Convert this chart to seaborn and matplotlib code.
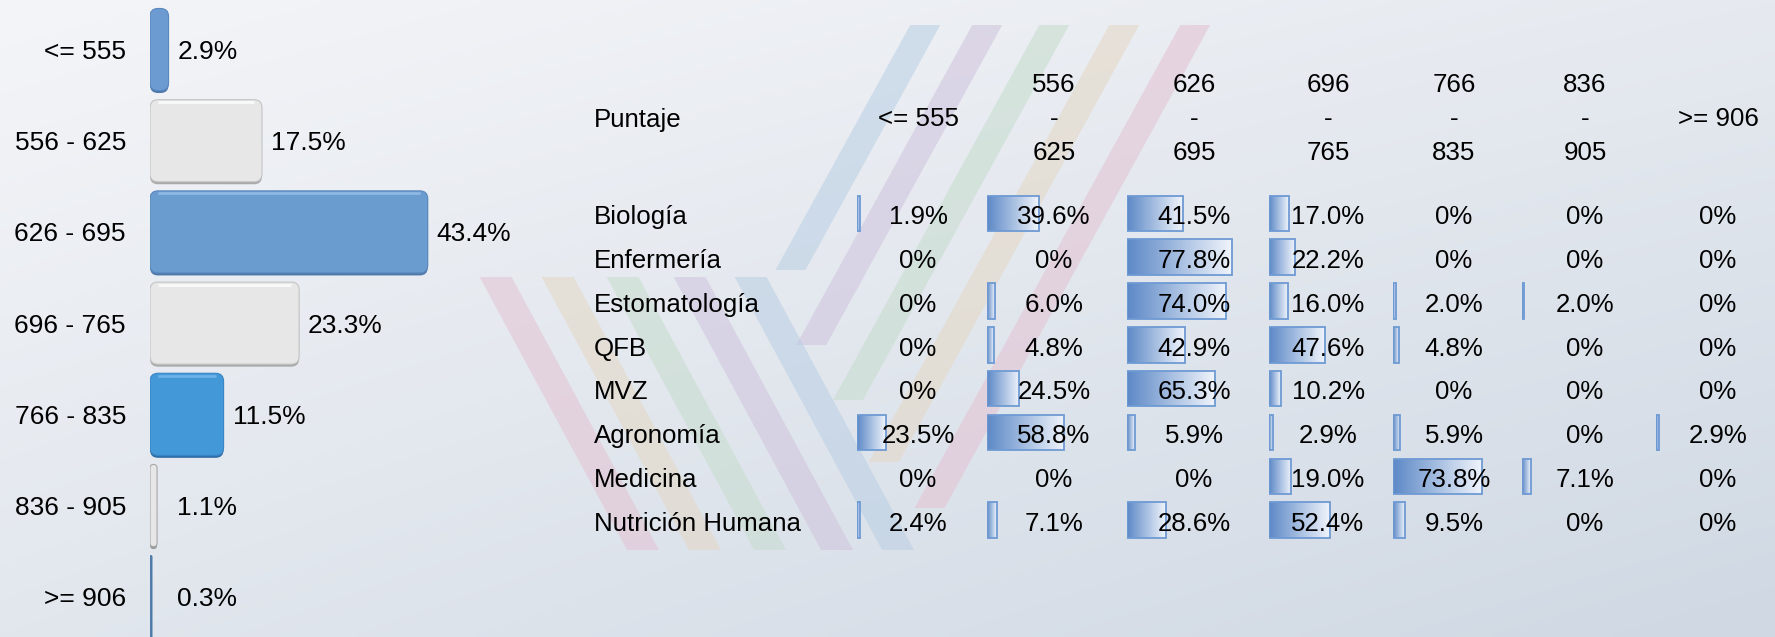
import numpy as np
import pandas as pd
import matplotlib
matplotlib.use("Agg")
import matplotlib.pyplot as plt
import seaborn as sns
from matplotlib.patches import FancyBboxPatch, Polygon
from matplotlib.colors import LinearSegmentedColormap, to_rgb
from matplotlib.transforms import offset_copy

# ---------------- data ----------------
bands = ["<= 555", "556 - 625", "626 - 695", "696 - 765", "766 - 835", "836 - 905", ">= 906"]
share = [2.9, 17.5, 43.4, 23.3, 11.5, 1.1, 0.3]

carreras = ["Biología", "Enfermería", "Estomatología", "QFB", "MVZ",
            "Agronomía", "Medicina", "Nutrición Humana"]
col_headers = [["<= 555"], ["556", "-", "625"], ["626", "-", "695"], ["696", "-", "765"],
               ["766", "-", "835"], ["836", "-", "905"], [">= 906"]]
pct_le555 = [1.9, 0, 0, 0, 0, 23.5, 0, 2.4]
pct_556_625 = [39.6, 0, 6.0, 4.8, 24.5, 58.8, 0, 7.1]
pct_626_695 = [41.5, 77.8, 74.0, 42.9, 65.3, 5.9, 0, 28.6]
pct_696_765 = [17.0, 22.2, 16.0, 47.6, 10.2, 2.9, 19.0, 52.4]
pct_766_835 = [0, 0, 2.0, 4.8, 0, 5.9, 73.8, 9.5]
pct_836_905 = [0, 0, 2.0, 0, 0, 0, 7.1, 0]
pct_ge906 = [0, 0, 0, 0, 0, 2.9, 0, 0]
table_cols = [pct_le555, pct_556_625, pct_626_695, pct_696_765, pct_766_835, pct_836_905, pct_ge906]

# ---------------- style ----------------
W, H = 1775, 637
sns.set_theme(style="white")
plt.rcParams["font.family"] = ["Liberation Sans", "DejaVu Sans"]
plt.rcParams["text.color"] = "black"
plt.rcParams["ytick.color"] = "black"

bar_face = ['#6B9BD1', '#E7E7E7', '#6A9CD0', '#E7E7E7', '#4398D8', '#E7E7E7', '#5B87B5']
bar_edge = ['#5A88BE', '#C4C4C4', '#5A88BE', '#C4C4C4', '#3A86C6', '#A8A8A8', '#4A76A3']
bar_shadow = ['#4E79AA', '#A9A9A9', '#4E79AA', '#A9A9A9', '#2F6FA8', '#9A9A9A', '#4A76A3']
bar_light = ['#8FB8E4', '#FAFAFA', '#8FB8E4', '#FAFAFA', '#6DB2E8', '#FAFAFA', '#5B87B5']

fig = plt.figure(figsize=(W / 100, H / 100), dpi=100)

# ---------------- background ----------------
bg = fig.add_axes([0, 0, 1, 1], zorder=0)
bg.set_xlim(0, W)
bg.set_ylim(H, 0)
bg.axis('off')
ny, nx = 128, 356
u = np.linspace(0, 1, nx)[None, :, None]
v = np.linspace(0, 1, ny)[:, None, None]
TL, TR, BL, BR = [np.array(to_rgb(c)) for c in ('#F4F5F8', '#E6EAF0', '#E2E7EE', '#CFD8E3')]
img = (1 - u) * (1 - v) * TL + u * (1 - v) * TR + (1 - u) * v * BL + u * v * BR
bg.imshow(img, extent=(0, W, H, 0), aspect='auto', interpolation='bilinear', zorder=0)

stripe_col = {'blue': '#B9CEE4', 'purple': '#CFC3DD', 'green': '#C6DCCD',
              'beige': '#E4D7C3', 'pink': '#E3C2D2'}
for name, x60, yb in [('blue', 906, 270), ('purple', 968, 345), ('green', 1035, 400),
                      ('beige', 1105, 462), ('pink', 1176, 508)]:
    yt, s, wd = 25, -0.55, 30
    xt = x60 + s * (yt - 60)
    xb = x60 + s * (yb - 60)
    bg.add_patch(Polygon([(xt - wd / 2, yt), (xt + wd / 2, yt), (xb + wd / 2, yb), (xb - wd / 2, yb)],
                         closed=True, fc=stripe_col[name], ec='none', alpha=0.55, zorder=1))
for name, x337 in [('pink', 528), ('beige', 590), ('green', 655), ('purple', 722), ('blue', 783)]:
    yt, yb, s, wd = 277, 550, 0.54, 32
    xt = x337 + s * (yt - 337)
    xb = x337 + s * (yb - 337)
    bg.add_patch(Polygon([(xt - wd / 2, yt), (xt + wd / 2, yt), (xb + wd / 2, yb), (xb - wd / 2, yb)],
                         closed=True, fc=stripe_col[name], ec='none', alpha=0.55, zorder=1))

# ---------------- left bar chart ----------------
ax1 = fig.add_axes([150 / W, 1 - 642.3 / H, 320 / W, 638.4 / H], zorder=2)
df1 = pd.DataFrame({'band': bands, 'share': share})
sns.barplot(data=df1, x='share', y='band', hue='band', palette=bar_face, saturation=1,
            width=0.9, legend=False, orient='h', ax=ax1, errorbar=None)
ax1.set_xlim(0, 50)
ax1.set_ylim(6.5, -0.5)
ax1.patch.set_visible(False)
for sp in ax1.spines.values():
    sp.set_visible(False)
ax1.set_xticks([])
ax1.set_xlabel('')
ax1.set_ylabel('')
ax1.tick_params(axis='y', length=0, pad=17.3, labelsize=19)

xdpp = 50 / 320
ydpp = 7 / 638.4
asp = ydpp / xdpp
for p in list(ax1.patches):
    x, y, w, h = p.get_x(), p.get_y(), p.get_width(), p.get_height()
    i = int(round(y + h / 2))
    p.set_visible(False)
    r = min(8.0, (w / xdpp) / 2) * xdpp
    bs = f"round,pad=0,rounding_size={r}"
    ax1.add_patch(FancyBboxPatch((x, y + 2.5 * ydpp), w, h, boxstyle=bs, mutation_aspect=asp,
                                 fc=bar_shadow[i], ec='none', zorder=2))
    ax1.add_patch(FancyBboxPatch((x, y), w, h, boxstyle=bs, mutation_aspect=asp,
                                 fc=bar_face[i], ec=bar_edge[i], lw=0.8, zorder=3))
    if w / xdpp > 20:
        ax1.plot([x + r, x + w - r], [y + 2.5 * ydpp] * 2, color=bar_light[i], lw=2,
                 solid_capstyle='butt', zorder=4)

lab_tr = offset_copy(ax1.transData, fig=fig, x=9, y=0, units='dots')
for i, val in enumerate(share):
    ax1.text(max(val, 2.85), i, f"{val:.1f}%", transform=lab_tr, ha='left',
             va='center_baseline', fontsize=19, clip_on=False)

# ---------------- table data bars ----------------
bar_lefts = [857.3, 987.3, 1127.3, 1269.3, 1393.3, 1521.7, 1655.7]
bar_full = [122, 131, 134, 116, 120, 125, 122]
col_centers = [918, 1054, 1194, 1328, 1454, 1585, 1718]
row_c0, row_pitch = 213.3, 43.85
t_top = row_c0 - row_pitch / 2
t_bot = row_c0 + 7.5 * row_pitch
cmap = LinearSegmentedColormap.from_list('databar', ['#5D89C7', '#F0F4FB'])
grad = np.linspace(0, 1, 128).reshape(1, -1)
for j, vals in enumerate(table_cols):
    axj = fig.add_axes([bar_lefts[j] / W, 1 - t_bot / H, bar_full[j] / W, (t_bot - t_top) / H], zorder=3)
    sns.barplot(x=vals, y=carreras, orient='h', width=0.81, color='#6E9AD4', saturation=1,
                ax=axj, errorbar=None)
    for p in list(axj.patches):
        x0, y0, w, h = p.get_x(), p.get_y(), p.get_width(), p.get_height()
        if w <= 0:
            p.set_visible(False)
            continue
        im = axj.imshow(grad, cmap=cmap, extent=(x0, x0 + w, y0 + h, y0), aspect='auto',
                        interpolation='bilinear', zorder=1)
        im.set_clip_path(p)
        p.set_facecolor('none')
        p.set_edgecolor('#6E9AD4')
        p.set_linewidth(1.3)
        p.set_zorder(2)
    axj.set_xlim(0, 100)
    axj.set_ylim(7.5, -0.5)
    axj.axis('off')

# ---------------- table text ----------------
ov = fig.add_axes([0, 0, 1, 1], zorder=6)
ov.set_xlim(0, W)
ov.set_ylim(H, 0)
ov.axis('off')
fs_t = 18.6
x_left = 593.5
ov.text(x_left, 126.5, "Puntaje", ha='left', va='baseline', fontsize=fs_t)
header_base = [92.5, 126.2, 159.9]
for j, lines in enumerate(col_headers):
    if len(lines) == 1:
        ov.text(col_centers[j], 126.5, lines[0], ha='center', va='baseline', fontsize=fs_t)
    else:
        for k, s in enumerate(lines):
            ov.text(col_centers[j], header_base[k], s, ha='center', va='baseline', fontsize=fs_t)
row_base0, row_step = 224.3, 43.76
for i, name in enumerate(carreras):
    yb = row_base0 + i * row_step
    ov.text(x_left, yb, name, ha='left', va='baseline', fontsize=fs_t)
    for j, vals in enumerate(table_cols):
        val = vals[i]
        lab = "0%" if val == 0 else f"{val:.1f}%"
        ov.text(col_centers[j], yb, lab, ha='center', va='baseline', fontsize=fs_t)

fig.savefig("out.png", dpi=100)
